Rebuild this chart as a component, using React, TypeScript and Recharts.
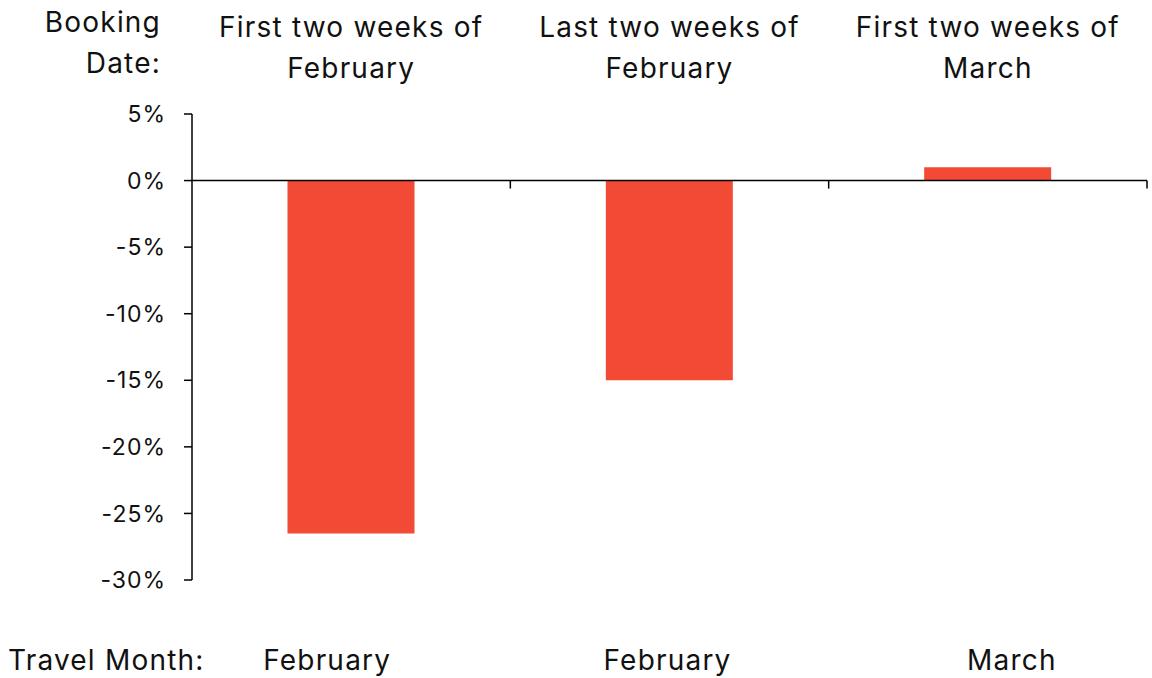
import { Bar, BarChart, ReferenceLine, XAxis, YAxis } from "recharts";

const bookingDates = ["First two weeks of|February", "Last two weeks of|February", "First two weeks of|March"];
const travelMonths = ["February", "February", "March"];
const changes = [-26.5, -15.0, 1.0];
const yTicks = [-30, -25, -20, -15, -10, -5, 0, 5];
// travel month labels sit a little off the category centres
const travelOffsets = [-24, -2, 24];

const data = bookingDates.map((d, i) => ({
  booking: d,
  travel: travelMonths[i],
  change: changes[i]
}));

const FONT = "Inter, 'Noto Sans', sans-serif";
const BAR = "#F24A35";
const SPACING = 1.2;

function BookingTick({ x, payload }: any) {
  const [l1, l2] = String(payload.value).split("|");
  return (
    <text x={x} textAnchor="middle" fontFamily={FONT} fontSize={28} letterSpacing={SPACING} fill="#111">
      <tspan x={x} y={37}>{l1}</tspan>
      <tspan x={x} y={78}>{l2}</tspan>
    </text>
  );
}

function TravelTick({ x, index }: any) {
  return (
    <text
      x={x + travelOffsets[index]}
      y={670}
      textAnchor="middle"
      fontFamily={FONT}
      fontSize={28}
      letterSpacing={SPACING}
      fill="#111"
    >
      {travelMonths[index]}
    </text>
  );
}

// zero line with tick marks at the category boundaries
function ZeroAxis(props: any) {
  const { x1, x2, y1 } = props;
  const n = data.length;
  const step = (x2 - x1) / n;
  return (
    <g>
      <line x1={x1} x2={x2} y1={y1} y2={y1} stroke="#000" strokeWidth={1.5} />
      {data.map((_, i) => (
        <line key={i} x1={x1 + step * (i + 1)} x2={x1 + step * (i + 1)} y1={y1} y2={y1 + 8} stroke="#000" strokeWidth={1.5} />
      ))}
    </g>
  );
}

export default function App() {
  const labelStyle = { fontSize: 28, lineHeight: "41px", color: "#111", letterSpacing: SPACING, whiteSpace: "nowrap" as const };
  return (
    <div style={{ position: "absolute", left: 0, top: 0, width: 1152, height: 678, background: "#fff", fontFamily: FONT }}>
      <div style={{ ...labelStyle, position: "absolute", right: 1152 - 161, top: 2, textAlign: "right" }}>
        Booking
        <br />
        Date:
      </div>
      <div style={{ ...labelStyle, position: "absolute", left: 8, top: 640 }}>Travel Month:</div>
      <BarChart width={1152} height={678} data={data} margin={{ top: 0, right: 5, bottom: 0, left: 0 }} barCategoryGap="30%">
        <XAxis xAxisId="top" dataKey="booking" orientation="top" height={114} axisLine={false} tickLine={false} tick={<BookingTick />} interval={0} />
        <XAxis xAxisId="bottom" dataKey="travel" orientation="bottom" height={98} axisLine={false} tickLine={false} tick={<TravelTick />} interval={0} />
        <YAxis
          domain={[-30, 5]}
          ticks={yTicks}
          width={192}
          tickFormatter={(v) => `${v}%`}
          tickSize={8}
          tickMargin={18}
          axisLine={{ stroke: "#000", strokeWidth: 1.5 }}
          tickLine={{ stroke: "#000", strokeWidth: 1.5 }}
          tick={{ fill: "#111", fontSize: 23, fontFamily: FONT, letterSpacing: 1 }}
          interval={0}
        />
        <Bar xAxisId="top" dataKey="change" fill={BAR} isAnimationActive={false} />
        <ReferenceLine xAxisId="top" y={0} shape={<ZeroAxis />} />
      </BarChart>
    </div>
  );
}
